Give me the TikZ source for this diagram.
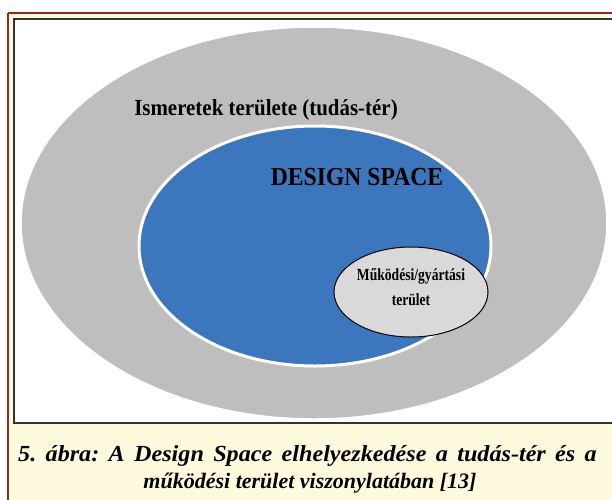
\documentclass[tikz,border=0pt]{standalone}
\usepackage{fontspec}
\setmainfont{Liberation Serif}
\usetikzlibrary{shapes.geometric}
\definecolor{framered}{HTML}{8E2A1E}
\definecolor{cream}{HTML}{FFFADD}
\definecolor{outergray}{HTML}{BEBEBE}
\definecolor{dsblue}{HTML}{3C77BD}
\definecolor{innergray}{HTML}{D9D9D9}
\tikzset{
  lbl/.style={text=black, align=center, inner sep=0pt},
  captxt/.style={font=\bfseries\itshape\frenchspacing, inner sep=0pt, anchor=base},
}
\begin{document}
\begin{tikzpicture}[x=1pt,y=-1pt]
\useasboundingbox (0,0) rectangle (612,499);
\fill[white] (0,0) rectangle (612,499);
\fill[cream] (8,13) rectangle (620,510);
\draw[framered, line width=2.2pt] (8,13) -- (620,13);
\draw[framered, line width=2.2pt] (8,13) -- (8,510);
\draw[fill=white, draw=black!80, line width=2pt] (13.5,19) rectangle (620,423);
\node[ellipse, draw=white, line width=1.5pt, fill=outergray, minimum width=586pt, minimum height=392pt, inner sep=0pt] (knowledge) at (314,223) {};
\node[ellipse, draw=white, line width=3pt, fill=dsblue, minimum width=352pt, minimum height=240pt, inner sep=0pt] (design) at (315,246) {};
\node[ellipse, draw=black, line width=1pt, fill=innergray, minimum width=154pt, minimum height=90pt, inner sep=0pt] (operating) at (411,292) {};
\node[lbl] (tk) at (266,110) {\scalebox{0.91}[1]{\bfseries\fontsize{23}{26}\selectfont Ismeretek területe (tudás-tér)}};
\node[lbl] (tds) at (357,177) {\scalebox{0.91}[1]{\bfseries\fontsize{26}{30}\selectfont DESIGN SPACE}};
\node[lbl] (top) at (411,288) {\scalebox{0.8}[1]{\bfseries\fontsize{17}{25}\selectfont\begin{tabular}{@{}c@{}}Működési/gyártási\\terület\end{tabular}}};
\node[captxt] (cap1) at (307.5,461) {\scalebox{1.05}[1]{\fontsize{23}{26}\selectfont\makebox[551pt][s]{5. ábra: A Design Space elhelyezkedése a tudás-tér és a}}};
\node[captxt] (cap2) at (310,488) {\fontsize{22}{26}\selectfont működési terület viszonylatában [13]};
\end{tikzpicture}
\end{document}
